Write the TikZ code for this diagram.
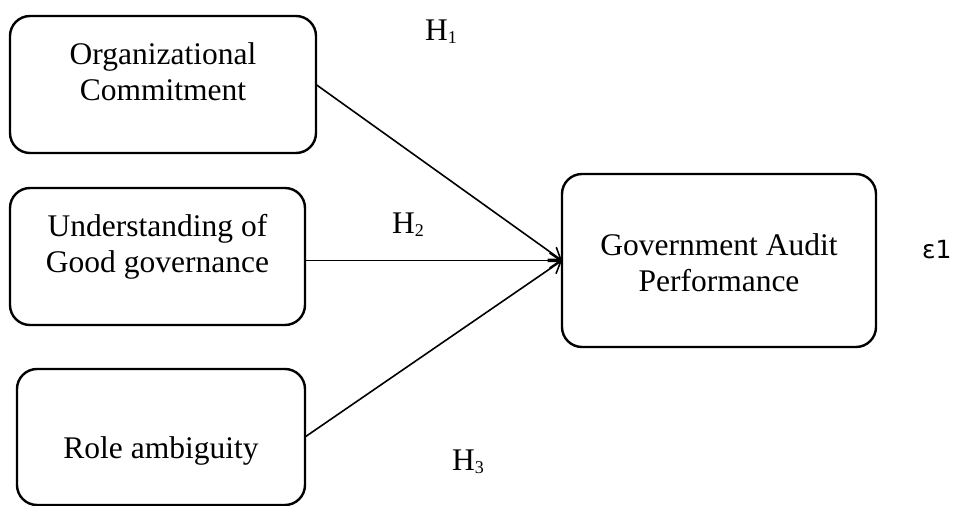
\documentclass[tikz,border=0pt]{standalone}
\usepackage{fontspec}
\setmainfont{Liberation Serif}
\newfontfamily\epsfont{DejaVu Sans}
\usetikzlibrary{arrows.meta}
\newcommand{\hlab}[1]{H\raisebox{-3pt}{\fontsize{18}{18}\selectfont #1}}

\begin{document}
\begin{tikzpicture}[x=1pt, y=-1pt,
		box/.style={draw, line width=2.4pt, rounded corners=20pt, inner sep=0pt, outer sep=0pt},
		txt/.style={align=center, inner sep=0pt, font=\fontsize{31.5}{36}\selectfont},
		hyp/.style={anchor=base west, inner sep=0pt, font=\fontsize{31.5}{36}\selectfont},
		link/.style={-{Straight Barb[length=11pt,width=15pt]}, line width=1.6pt}]
			\useasboundingbox (0,0) rectangle (954,506);
			\node [box, minimum width=306pt, minimum height=137pt] (oc) at (163,84.5) {};
			\node [box, minimum width=295pt, minimum height=137pt] (ug) at (157.5,256.5) {};
			\node [box, minimum width=288pt, minimum height=136pt] (ra) at (161,437) {};
			\node [box, minimum width=314pt, minimum height=173pt] (gap) at (719,260.5) {};
			\node [txt] (oc-txt) at (163,72) {Organizational\\Commitment};
			\node [txt] (ug-txt) at (157.5,247) {Understanding of\\Good governance};
			\node [txt] (ra-txt) at (161,450.5) {Role ambiguity};
			\node [txt] (gap-txt) at (719,263) {Government Audit\\Performance};
			\draw [link] (oc.east) -- (gap.west);
			\draw [link] (gap.west -| ug.east) -- (gap.west);
			\draw [link] (ra.east) -- (gap.west);
			\node [hyp] (h1) at (425,40) {\hlab{1}};
			\node [hyp] (h2) at (392,233) {\hlab{2}};
			\node [hyp] (h3) at (452,470) {\hlab{3}};
			\node [hyp, font=\epsfont\fontsize{25}{28}\selectfont] (eps) at (922,258) {ε1};
	\end{tikzpicture}
\end{document}
